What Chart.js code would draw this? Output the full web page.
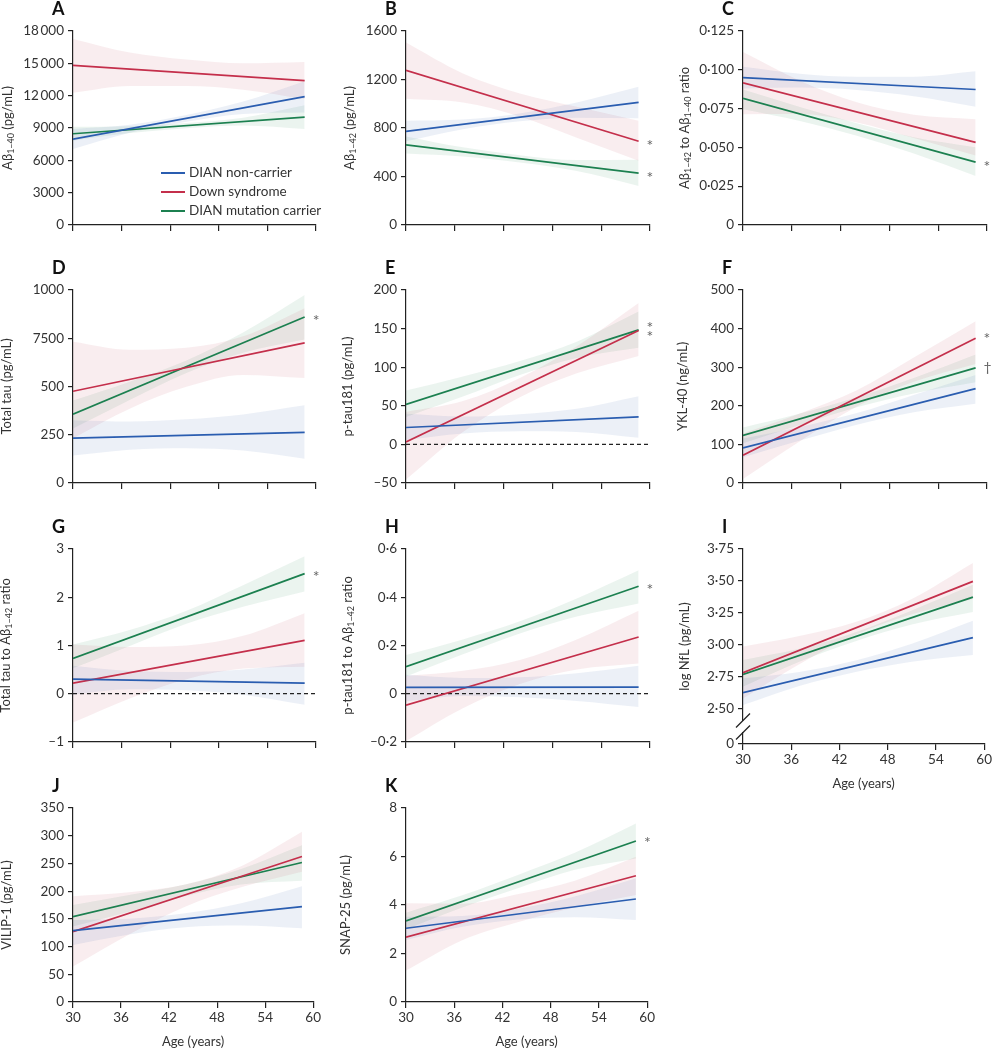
<!DOCTYPE html>
<html lang="en">
<head>
  <meta charset="UTF-8" />
  <title>CSF biomarkers by age</title>
  <script src="https://cdn.jsdelivr.net/npm/chart.js"></script>
  <style>
    body {
      margin: 0;
      background: #fff;
      width: 994px;
      height: 1050px;
      position: relative;
      overflow: hidden;
    }
    canvas { position: absolute; }
  </style>
</head>
<body>
<script>
  const groups = ['DIAN non-carrier', 'Down syndrome', 'DIAN mutation carrier'];
  const lineAges = [30, 58.6];
  const bandAges = [30, 37, 44, 51, 58.6];
  const xTicks = [30, 36, 42, 48, 54, 60];

  // each panel: fitted line [start, end] per group, then band upper / lower at bandAges
  // groups in order: non-carrier, Down syndrome, mutation carrier
  const ab40Line = [[7970, 11900], [14810, 13400], [8460, 10000]];
  const ab40Hi = [[8900, 9300, 10200, 11450, 13340], [17260, 16000, 15350, 15000, 15120], [9100, 9150, 9450, 9950, 11100]];
  const ab40Lo = [[7050, 8550, 9580, 10300, 10430], [12270, 12900, 12900, 12550, 11680], [7820, 8520, 8980, 9230, 8900]];
  const ab40Ticks = [0, 3000, 6000, 9000, 12000, 15000, 18000];

  const ab42Line = [[771, 1011], [1276, 690], [660, 428]];
  const ab42Hi = [[860, 870, 920, 1010, 1140], [1505, 1250, 1085, 975, 860], [730, 640, 575, 535, 537]];
  const ab42Lo = [[690, 790, 855, 885, 880], [1040, 1010, 895, 720, 530], [590, 565, 515, 445, 322]];
  const ab42Ticks = [0, 400, 800, 1200, 1600];

  const ratioLine = [[0.0950, 0.0873], [0.0916, 0.0532], [0.0816, 0.0405]];
  const ratioHi = [[0.102, 0.0975, 0.0955, 0.0955, 0.099], [0.1114, 0.093, 0.079, 0.071, 0.0681], [0.0873, 0.076, 0.0655, 0.0565, 0.05]];
  const ratioLo = [[0.088, 0.0885, 0.087, 0.083, 0.0762], [0.0713, 0.0715, 0.066, 0.056, 0.0447], [0.0745, 0.067, 0.0575, 0.046, 0.0315]];
  const ratioTicks = [0, 0.025, 0.05, 0.075, 0.1, 0.125];

  const tauLine = [[232, 262], [475, 726], [356, 860]];
  const tauHi = [[325, 318, 330, 355, 402], [732, 690, 700, 760, 906], [427, 525, 635, 780, 974]];
  const tauLo = [[142, 172, 180, 168, 125], [231, 385, 498, 560, 544], [282, 430, 570, 675, 744]];
  const tauTicks = [0, 250, 500, 750, 1000];
  const tauTickLabels = ['0', '250', '500', '7500', '1000'];

  const ptauLine = [[21.8, 35.5], [3, 147.4], [51.7, 148.3]];
  const ptauHi = [[39.7, 36, 39, 46, 62.4], [42, 56, 86, 127, 183], [69.7, 88, 108, 133, 172]];
  const ptauLo = [[5.6, 14, 17, 16, 8.5], [-45.7, 16, 61, 92, 114.5], [35.5, 62, 90, 112, 125]];
  const ptauTicks = [-50, 0, 50, 100, 150, 200];

  const yklLine = [[90.6, 244.4], [71.8, 375], [123, 298]];
  const yklHi = [[115, 145, 181, 228, 280], [128, 180, 240, 325, 419], [143.6, 180, 222, 272, 333]];
  const yklLo = [[66.7, 110, 151, 183, 205], [10, 108, 198, 262, 308], [102.6, 150, 196, 232, 260.7]];
  const yklTicks = [0, 100, 200, 300, 400, 500];

  const tauAbLine = [[0.30, 0.217], [0.217, 1.106], [0.73, 2.49]];
  const tauAbHi = [[0.58, 0.47, 0.45, 0.5, 0.64], [1.02, 0.97, 1.0, 1.2, 1.67], [1.02, 1.32, 1.72, 2.25, 2.85]];
  const tauAbLo = [[-0.02, 0.09, 0.07, -0.02, -0.23], [-0.6, -0.1, 0.3, 0.52, 0.56], [0.525, 0.99, 1.45, 1.8, 2.12]];
  const tauAbTicks = [-1, 0, 1, 2, 3];

  const ptauAbLine = [[0.026, 0.027], [-0.048, 0.235], [0.112, 0.4455]];
  const ptauAbHi = [[0.078, 0.065, 0.068, 0.085, 0.116], [0.0735, 0.095, 0.14, 0.225, 0.344], [0.16, 0.225, 0.3, 0.395, 0.512]];
  const ptauAbLo = [[-0.032, -0.01, -0.015, -0.03, -0.055], [-0.196, -0.06, 0.04, 0.1, 0.125], [0.071, 0.163, 0.25, 0.32, 0.374]];
  const ptauAbTicks = [-0.2, 0, 0.2, 0.4, 0.6];

  const nflLine = [[2.628, 3.058], [2.784, 3.497], [2.771, 3.374]];
  const nflHi = [[2.74, 2.79, 2.88, 3.01, 3.189], [2.988, 3.07, 3.18, 3.36, 3.64], [2.884, 2.97, 3.1, 3.27, 3.47]];
  const nflLo = [[2.531, 2.68, 2.79, 2.87, 2.923], [2.583, 2.85, 3.08, 3.24, 3.359], [2.675, 2.87, 3.03, 3.16, 3.257]];
  const nflFloor = 2.227; // broken axis: bottom of the axis stands for 0
  const nflTicks = [nflFloor, 2.5, 2.75, 3, 3.25, 3.5, 3.75];
  const nflTickLabels = ['0', '2·50', '2·75', '3·00', '3·25', '3·50', '3·75'];

  const vilipLine = [[128.9, 172], [127, 262.5], [154, 251.7]];
  const vilipHi = [[148, 150, 160, 178, 209], [191, 198, 212, 245, 307], [175, 193, 212, 240, 283]];
  const vilipLo = [[103, 122, 135, 138, 133], [64, 122, 172, 207, 235], [136, 163, 191, 212, 218.7]];
  const vilipTicks = [0, 50, 100, 150, 200, 250, 300, 350];

  const snapLine = [[3.041, 4.247], [2.671, 5.205], [3.342, 6.64]];
  const snapHi = [[3.52, 3.55, 3.85, 4.35, 5.1], [4.07, 4.05, 4.45, 5.0, 5.986], [3.685, 4.4, 5.25, 6.15, 7.356]];
  const snapLo = [[2.56, 3.1, 3.4, 3.5, 3.38], [1.3, 2.55, 3.3, 3.9, 4.41], [3.0, 3.9, 4.7, 5.45, 5.918]];
  const snapTicks = [0, 2, 4, 6, 8];

  const colors = ['#2a5db0', '#c42f4b', '#1c8050'];
  const bandColors = ['rgba(43,92,168,0.09)', 'rgba(194,51,77,0.09)', 'rgba(30,128,80,0.09)'];
  const fontFam = 'Lato, "Open Sans", sans-serif';

  // plot-area edges of the grid
  const colLeft = [73, 406, 743], colRight = [316, 650, 987];
  const rowTop = [31, 290, 549, 808], rowBottom = [227, 485, 744, 1002];
  const AXIS_W = 73, PAD_T = 34, PAD_R = 7;

  const panels = [
    { id: 'A', col: 0, row: 0, line: ab40Line, hi: ab40Hi, lo: ab40Lo, ticks: ab40Ticks, dec: 0,
      title: [['Aβ'], ['1–40', 1], [' (pg/mL)']], gap: 65, legend: true },
    { id: 'B', col: 1, row: 0, line: ab42Line, hi: ab42Hi, lo: ab42Lo, ticks: ab42Ticks, dec: 0,
      title: [['Aβ'], ['1–42', 1], [' (pg/mL)']], gap: 56, marks: [{ g: 1, t: '*', dy: 1 }, { g: 2, t: '*', dy: 1 }] },
    { id: 'C', col: 2, row: 0, line: ratioLine, hi: ratioHi, lo: ratioLo, ticks: ratioTicks, dec: 3,
      title: [['Aβ'], ['1–42', 1], [' to Aβ'], ['1–40', 1], [' ratio']], gap: 58, marks: [{ g: 2, t: '*', dy: 1 }] },
    { id: 'D', col: 0, row: 1, line: tauLine, hi: tauHi, lo: tauLo, ticks: tauTicks, labels: tauTickLabels,
      title: [['Total tau (pg/mL)']], gap: 66, marks: [{ g: 2, t: '*', dy: 0 }] },
    { id: 'E', col: 1, row: 1, line: ptauLine, hi: ptauHi, lo: ptauLo, ticks: ptauTicks, dec: 0, zero: true,
      title: [['p-tau181 (pg/mL)']], gap: 58, marks: [{ g: 2, t: '*', dy: -6 }, { g: 1, t: '*', dy: 2 }] },
    { id: 'F', col: 2, row: 1, line: yklLine, hi: yklHi, lo: yklLo, ticks: yklTicks, dec: 0,
      title: [['YKL-40 (ng/mL)']], gap: 60, marks: [{ g: 1, t: '*', dy: -3 }, { g: 2, t: '†', dy: 0 }] },
    { id: 'G', col: 0, row: 2, line: tauAbLine, hi: tauAbHi, lo: tauAbLo, ticks: tauAbTicks, dec: 0, zero: true,
      title: [['Total tau to Aβ'], ['1–42', 1], [' ratio']], gap: 67, marks: [{ g: 2, t: '*', dy: -1 }] },
    { id: 'H', col: 1, row: 2, line: ptauAbLine, hi: ptauAbHi, lo: ptauAbLo, ticks: ptauAbTicks, dec: 1, zero: true,
      title: [['p-tau181 to Aβ'], ['1–42', 1], [' ratio']], gap: 58, marks: [{ g: 2, t: '*', dy: 0 }] },
    { id: 'I', col: 2, row: 2, line: nflLine, hi: nflHi, lo: nflLo, ticks: nflTicks, labels: nflTickLabels,
      title: [['log NfL (pg/mL)']], gap: 58, showX: true, brk: true },
    { id: 'J', col: 0, row: 3, line: vilipLine, hi: vilipHi, lo: vilipLo, ticks: vilipTicks, dec: 0,
      title: [['VILIP-1 (pg/mL)']], gap: 66, showX: true },
    { id: 'K', col: 1, row: 3, line: snapLine, hi: snapHi, lo: snapLo, ticks: snapTicks, dec: 0,
      title: [['SNAP-25 (pg/mL)']], gap: 60, showX: true, marks: [{ g: 2, t: '*', dy: -2 }] }
  ];

  function fmtTick(v, dec) {
    if (Math.abs(v) < 1e-9) return '0';
    let s = Math.abs(v).toFixed(dec).replace('.', '·');
    if (dec === 0 && Math.abs(v) >= 10000) s = s.replace(/(\d+)(\d{3})$/, '$1\u2009$2');
    return (v < 0 ? '–' : '') + s;
  }

  function decor(p) {
    return {
      id: 'decor' + p.id,
      afterDraw(chart) {
        const { ctx, chartArea: a, scales: { x, y } } = chart;
        ctx.save();
        ctx.textBaseline = 'middle';
        ctx.textAlign = 'left';

        // panel letter
        ctx.fillStyle = '#111';
        ctx.font = `bold 18px ${fontFam}`;
        ctx.fillText(p.id, a.left - 21, a.top - 22);

        // axis break on the NfL panel
        if (p.brk) {
          ctx.fillStyle = '#fff';
          ctx.fillRect(a.left - 2, a.bottom - 23, 4, 11);
          ctx.strokeStyle = '#222';
          ctx.lineWidth = 1.2;
          [a.bottom - 23.5, a.bottom - 11.5].forEach(cy => {
            ctx.beginPath();
            ctx.moveTo(a.left - 7, cy + 7);
            ctx.lineTo(a.left + 7, cy - 7);
            ctx.stroke();
          });
        }

        // significance marks next to line ends
        (p.marks || []).forEach(m => {
          const px = x.getPixelForValue(lineAges[1]) + 8;
          const star = m.t === '*';
          const py = y.getPixelForValue(p.line[m.g][1]) + m.dy + (star ? 4 : 0);
          ctx.fillStyle = '#666';
          ctx.font = `${star ? 16 : 14}px ${fontFam}`;
          ctx.fillText(m.t, px, py);
        });

        // legend inside panel A
        if (p.legend) {
          groups.forEach((g, i) => {
            const yy = a.top + 142 + i * 19;
            ctx.strokeStyle = colors[i];
            ctx.lineWidth = 2;
            ctx.beginPath();
            ctx.moveTo(a.left + 88, yy);
            ctx.lineTo(a.left + 112, yy);
            ctx.stroke();
            ctx.fillStyle = '#333';
            ctx.font = `13.5px ${fontFam}`;
            ctx.fillText(g, a.left + 116, yy);
          });
        }

        // y title with subscripts
        ctx.translate(a.left - p.gap, (a.top + a.bottom) / 2);
        ctx.rotate(-Math.PI / 2);
        let total = 0;
        const parts = p.title.map(([t, sub]) => {
          ctx.font = (sub ? '9px ' : '13px ') + fontFam;
          const w = ctx.measureText(t).width;
          total += w;
          return { t, sub, w };
        });
        let cx = -total / 2;
        ctx.fillStyle = '#333';
        parts.forEach(pt => {
          ctx.font = (pt.sub ? '9px ' : '13px ') + fontFam;
          ctx.fillText(pt.t, cx, pt.sub ? 3 : 0);
          cx += pt.w;
        });
        ctx.restore();
      }
    };
  }

  panels.forEach(p => {
    const L = colLeft[p.col], R = colRight[p.col], T = rowTop[p.row], B = rowBottom[p.row];
    const xH = p.showX ? 50 : 10;
    const W = AXIS_W + (R - L) + PAD_R, H = PAD_T + (B - T) + xH;
    const canvas = document.createElement('canvas');
    canvas.width = W;
    canvas.height = H;
    canvas.style.left = (L - AXIS_W) + 'px';
    canvas.style.top = (T - PAD_T) + 'px';
    document.body.appendChild(canvas);

    const datasets = [];
    p.line.forEach((vals, g) => datasets.push({
      data: lineAges.map((a, i) => ({ x: a, y: vals[i] })),
      borderColor: colors[g], borderWidth: 1.7, pointRadius: 0, fill: false, tension: 0
    }));
    if (p.zero) datasets.push({
      data: [{ x: 30, y: 0 }, { x: 60, y: 0 }],
      borderColor: '#222', borderWidth: 1.2, borderDash: [4, 3], pointRadius: 0, fill: false
    });
    p.line.forEach((_, g) => {
      datasets.push({
        data: bandAges.map((a, i) => ({ x: a, y: p.lo[g][i] })),
        borderWidth: 0, borderColor: 'transparent', pointRadius: 0, fill: false,
        cubicInterpolationMode: 'monotone'
      });
      datasets.push({
        data: bandAges.map((a, i) => ({ x: a, y: p.hi[g][i] })),
        borderWidth: 0, borderColor: 'transparent', pointRadius: 0, fill: '-1',
        backgroundColor: bandColors[g], cubicInterpolationMode: 'monotone'
      });
    });

    new Chart(canvas, {
      type: 'line',
      data: { datasets },
      options: {
        responsive: false,
        animation: false,
        devicePixelRatio: 1,
        layout: { padding: { top: PAD_T, right: PAD_R, left: 0, bottom: 0 } },
        plugins: { legend: { display: false }, tooltip: { enabled: false } },
        scales: {
          x: {
            type: 'linear',
            min: 30, max: 60,
            afterBuildTicks: s => { s.ticks = xTicks.map(v => ({ value: v })); },
            afterFit: s => { s.height = xH; },
            ticks: { display: !!p.showX, color: '#333', font: { family: fontFam, size: 13.5 }, padding: 2, maxRotation: 0 },
            grid: { drawOnChartArea: false, drawTicks: true, tickLength: 6, color: '#222', lineWidth: 1.2 },
            border: { color: '#222', width: 1.2 },
            title: { display: !!p.showX, text: 'Age (years)', color: '#333',
                     font: { family: fontFam, size: 13 }, padding: { top: 3, bottom: 2 } }
          },
          y: {
            type: 'linear',
            min: p.ticks[0], max: p.ticks[p.ticks.length - 1],
            afterBuildTicks: s => { s.ticks = p.ticks.map(v => ({ value: v })); },
            afterFit: s => { s.width = AXIS_W; },
            ticks: {
              color: '#333', font: { family: fontFam, size: 13.5 }, padding: 4,
              callback: (v, i) => p.labels ? p.labels[i] : fmtTick(v, p.dec)
            },
            grid: { drawOnChartArea: false, drawTicks: true, tickLength: 5, color: '#222', lineWidth: 1.2 },
            border: { color: '#222', width: 1.2 }
          }
        }
      },
      plugins: [decor(p)]
    });
  });
</script>
</body>
</html>
